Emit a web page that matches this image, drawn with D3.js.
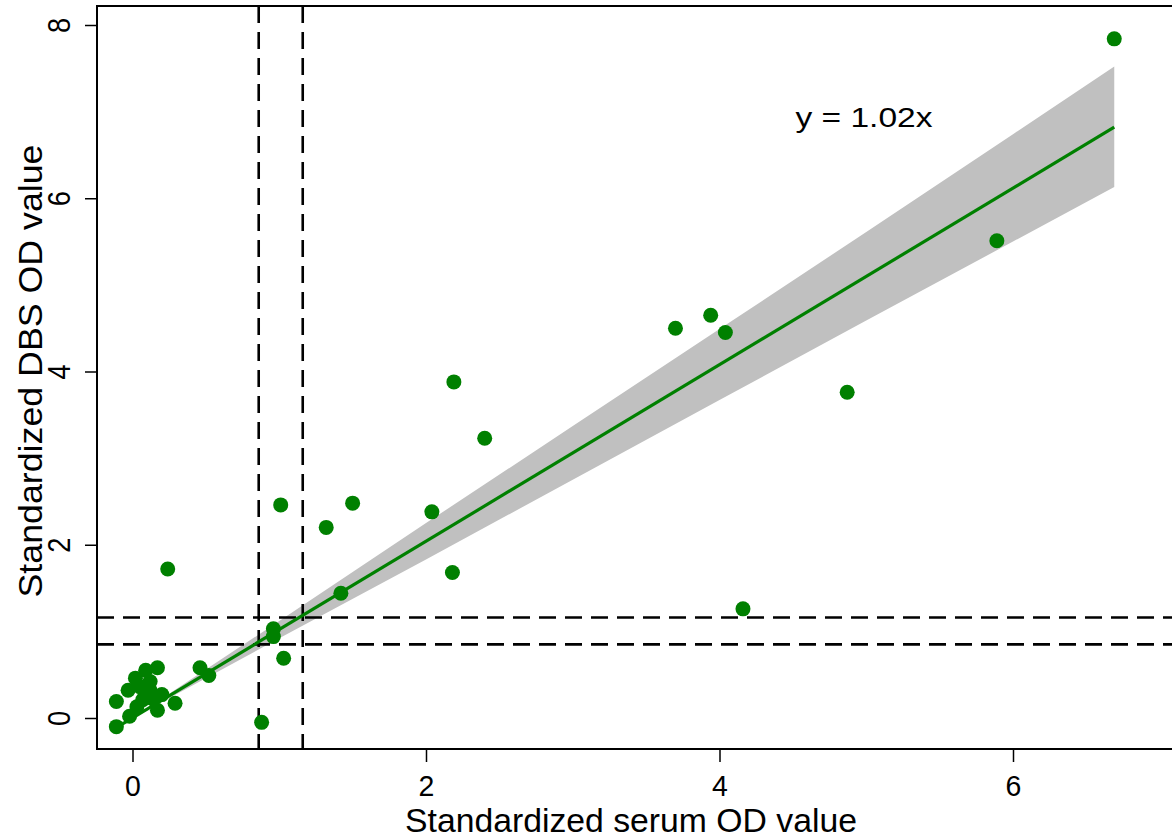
<!DOCTYPE html>
<html>
<head>
<meta charset="utf-8">
<script src="https://cdn.jsdelivr.net/npm/d3@7"></script>
<style>
  html, body { margin: 0; padding: 0; background: #fff; }
  svg { display: block; }
</style>
</head>
<body>
<div id="chart"></div>
<script>
// =========================
// DATA
// =========================
const serumOD = [6.69, 5.89, 4.87, 4.16, 3.94, 3.70, 4.04, 2.19, 2.40, 2.04, 2.18,
                 1.50, 1.32, 1.01, 1.42, 0.96, 0.96, 1.03, 0.88, 0.24, 0.46, 0.52,
                 -0.11, -0.11, -0.02, 0.17, 0.09, 0.02, -0.03, 0.17, 0.29, 0.20,
                 0.12, 0.07, 0.03, 0.12, 0.05, 0.14];
const dbsOD   = [7.84, 5.51, 3.76, 1.26, 4.65, 4.50, 4.45, 3.88, 3.23, 2.38, 1.68,
                 2.48, 2.20, 2.46, 1.44, 1.03, 0.94, 0.69, -0.05, 1.72, 0.58, 0.49,
                 -0.10, 0.19, 0.02, 0.58, 0.55, 0.46, 0.32, 0.09, 0.17, 0.27,
                 0.32, 0.21, 0.13, 0.42, 0.36, 0.22];

// fitted line y = 1.02x and its confidence band
const fitX = [-0.11, 6.69];
const fitY = [-0.11, 6.82];
const bandX     = [-0.11, 0, 1, 2, 3, 4, 5, 6, 6.69];
const bandLower = [-0.12, 0, 0.92, 1.83, 2.75, 3.67, 4.59, 5.50, 6.13];
const bandUpper = [-0.10, 0, 1.12, 2.25, 3.37, 4.49, 5.61, 6.74, 7.52];

// cut-off lines
const cutX = [0.86, 1.16];
const cutY = [0.85, 1.16];

const xTicks = [0, 2, 4, 6];
const yTicks = [0, 2, 4, 6, 8];
const fitLabel = "y = 1.02x";

// =========================
// SETUP
// =========================
const width = 1172, height = 838;
const frame = { left: 97, top: 6, right: 1200, bottom: 749 };
const narrow = "'Liberation Sans Narrow', 'Arial Narrow', 'Liberation Sans', Arial, sans-serif";

const svg = d3.select("#chart").append("svg")
    .attr("width", width)
    .attr("height", height);

const x = d3.scaleLinear().domain([0, 6]).range([132.5, 1013]);
const y = d3.scaleLinear().domain([0, 8]).range([718, 25]);

const plot = svg.append("g");

// =========================
// CONFIDENCE BAND
// =========================
const band = d3.area()
    .x((d, i) => x(bandX[i]))
    .y0((d, i) => y(bandLower[i]))
    .y1((d, i) => y(bandUpper[i]));

plot.append("path")
    .attr("d", band(bandX))
    .attr("fill", "#c0c0c0");

// =========================
// CUT-OFF LINES
// =========================
cutX.forEach(v => {
    plot.append("line")
        .attr("x1", x(v)).attr("x2", x(v))
        .attr("y1", frame.top).attr("y2", frame.bottom)
        .attr("stroke", "#000")
        .attr("stroke-width", 2.6)
        .attr("stroke-dasharray", "17,9");
});
cutY.forEach(v => {
    plot.append("line")
        .attr("x1", frame.left).attr("x2", frame.right)
        .attr("y1", y(v)).attr("y2", y(v))
        .attr("stroke", "#000")
        .attr("stroke-width", 2.6)
        .attr("stroke-dasharray", "17,9");
});

// =========================
// FIT LINE
// =========================
const line = d3.line()
    .x((d, i) => x(fitX[i]))
    .y((d, i) => y(fitY[i]));

plot.append("path")
    .attr("d", line(fitX))
    .attr("fill", "none")
    .attr("stroke", "#008000")
    .attr("stroke-width", 3.2);

// =========================
// POINTS
// =========================
plot.selectAll("circle")
    .data(serumOD)
    .enter()
    .append("circle")
    .attr("cx", d => x(d))
    .attr("cy", (d, i) => y(dbsOD[i]))
    .attr("r", 7.5)
    .attr("fill", "#008000");

// =========================
// FRAME + AXES
// =========================
svg.append("rect")
    .attr("x", frame.left)
    .attr("y", frame.top)
    .attr("width", frame.right - frame.left)
    .attr("height", frame.bottom - frame.top)
    .attr("fill", "none")
    .attr("stroke", "#000")
    .attr("stroke-width", 2);

const xAxis = svg.append("g")
    .attr("transform", `translate(0,${frame.bottom})`)
    .call(d3.axisBottom(x).tickValues(xTicks).tickFormat(d3.format("d"))
        .tickSize(13).tickPadding(13));

const yAxis = svg.append("g")
    .attr("transform", `translate(${frame.left},0)`)
    .call(d3.axisLeft(y).tickValues(yTicks).tickFormat(d3.format("d"))
        .tickSize(12).tickPadding(0));

[xAxis, yAxis].forEach(g => {
    g.select(".domain").remove();
    g.selectAll(".tick line").attr("stroke", "#000").attr("stroke-width", 1.5);
    g.selectAll(".tick text")
        .style("font-family", narrow)
        .attr("fill", "#000");
});

xAxis.selectAll(".tick text")
    .style("font-size", "30px")
    .attr("dy", "0.71em")
    .attr("transform", "scale(0.95,1)");

// y tick labels are drawn rotated
yAxis.selectAll(".tick text")
    .style("font-size", "32px")
    .attr("x", null).attr("dy", null)
    .attr("text-anchor", "middle")
    .attr("transform", "translate(-27,0) rotate(-90) scale(0.85,1)");

// =========================
// AXIS TITLES
// =========================
svg.append("text")
    .attr("x", 631)
    .attr("y", 832)
    .attr("text-anchor", "middle")
    .attr("textLength", 452)
    .attr("lengthAdjust", "spacingAndGlyphs")
    .style("font-family", narrow)
    .style("font-size", "33px")
    .text("Standardized serum OD value");

svg.append("text")
    .attr("transform", "translate(42,371) rotate(-90)")
    .attr("text-anchor", "middle")
    .attr("textLength", 453)
    .attr("lengthAdjust", "spacingAndGlyphs")
    .style("font-family", narrow)
    .style("font-size", "34px")
    .text("Standardized DBS OD value");

// =========================
// FIT LABEL
// =========================
svg.append("text")
    .attr("x", 864)
    .attr("y", 127)
    .attr("text-anchor", "middle")
    .attr("textLength", 137)
    .attr("lengthAdjust", "spacingAndGlyphs")
    .style("font-family", "'Liberation Sans', Arial, sans-serif")
    .style("font-size", "28px")
    .text(fitLabel);
</script>
</body>
</html>
